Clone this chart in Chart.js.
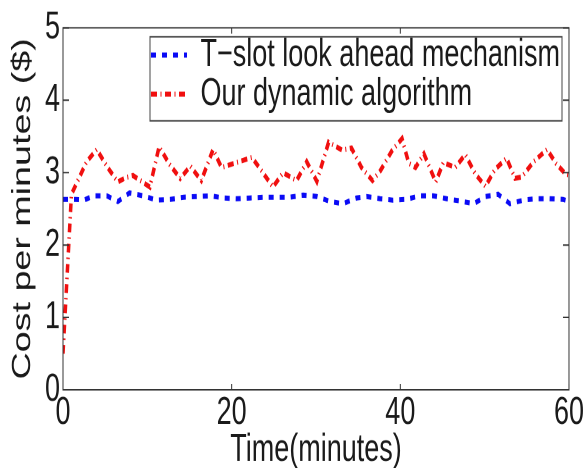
<!DOCTYPE html>
<html><head><meta charset="utf-8">
<script src="https://cdn.jsdelivr.net/npm/chart.js@4/dist/chart.umd.min.js"></script>
<style>
html,body{margin:0;padding:0;background:#fff;overflow:hidden}
#wrap{position:absolute;left:0;top:0;width:584px;height:323px;transform:scaleY(1.449);transform-origin:0 0}
</style></head><body>
<div id="wrap"><canvas id="c"></canvas></div>
<script>
const xTicks = [0, 20, 40, 60];
const yTicks = [0, 1, 2, 3, 4, 5];
const seriesNames = ['T\u2212slot look ahead mechanism', 'Our dynamic algorithm'];

const blueTime = [0, 1.5, 2.5, 3.6, 5.2, 6.5, 7.9, 9.5, 11.1, 12.7, 14.3, 15.9, 17.5, 19.0, 20.6, 22.2, 23.8, 25.3, 26.9, 28.5, 30.1, 31.7, 33.2, 34.8, 36.0, 37.6, 39.1, 40.7, 42.3, 43.9, 45.5, 47.0, 48.7, 50.1, 51.6, 53.0, 54.6, 56.2, 57.7, 59.3, 60];
const blueCost = [2.63, 2.63, 2.62, 2.68, 2.68, 2.60, 2.72, 2.68, 2.62, 2.63, 2.66, 2.67, 2.68, 2.65, 2.64, 2.65, 2.66, 2.66, 2.66, 2.69, 2.67, 2.60, 2.57, 2.65, 2.67, 2.64, 2.62, 2.63, 2.68, 2.68, 2.64, 2.61, 2.57, 2.67, 2.70, 2.57, 2.62, 2.64, 2.64, 2.63, 2.60];

const redTime = [0, 1.0, 1.8, 2.8, 4.0, 5.3, 6.5, 7.4, 8.3, 9.3, 10.3, 11.4, 12.6, 13.9, 15.1, 16.4, 17.8, 18.8, 20.6, 22.4, 23.4, 24.9, 26.1, 27.7, 28.9, 30.1, 31.5, 33.1, 34.2, 35.4, 36.7, 37.6, 39.0, 40.2, 41.0, 41.8, 42.8, 44.2, 45.1, 46.5, 47.7, 48.9, 50.1, 51.2, 52.6, 53.6, 54.4, 55.8, 57.4, 58.5, 59.6, 60];
const redCost = [0.5, 2.7, 2.9, 3.15, 3.32, 3.07, 2.87, 2.93, 2.96, 2.88, 2.80, 3.36, 3.12, 2.92, 3.09, 2.89, 3.32, 3.07, 3.14, 3.21, 3.05, 2.80, 3.0, 2.89, 3.15, 2.88, 3.42, 3.31, 3.34, 3.07, 2.89, 3.02, 3.30, 3.47, 3.13, 3.07, 3.26, 2.87, 3.14, 3.07, 3.25, 2.98, 2.81, 3.04, 3.20, 2.92, 2.94, 3.15, 3.32, 3.12, 2.98, 2.97];

const textColor = '#1a1a1a';
Chart.defaults.font.family = "'Liberation Sans', Arial, Helvetica, sans-serif";
Chart.defaults.color = textColor;

const frame = {
  id: 'frame',
  afterLayout(chart) {
    const lg = chart.legend, a = chart.chartArea;
    const w = lg.width, h = lg.height;
    lg.left = a.left + 88;
    lg.top = a.top + 5.3;
    lg.right = lg.left + w;
    lg.bottom = lg.top + h;
  },
  afterDraw(chart) {
    const ctx = chart.ctx, a = chart.chartArea;
    const xs = chart.scales.x, ys = chart.scales.y;
    ctx.save();
    ctx.strokeStyle = '#333';
    ctx.lineWidth = 1;
    ctx.setLineDash([]);
    ctx.strokeRect(a.left, a.top, a.right - a.left, a.bottom - a.top);
    ctx.beginPath();
    xs.ticks.forEach(t => {
      const px = xs.getPixelForValue(t.value);
      ctx.moveTo(px, a.bottom); ctx.lineTo(px, a.bottom - 4);
      ctx.moveTo(px, a.top); ctx.lineTo(px, a.top + 4);
    });
    ys.ticks.forEach(t => {
      const py = ys.getPixelForValue(t.value);
      ctx.moveTo(a.left, py); ctx.lineTo(a.left + 6, py);
      ctx.moveTo(a.right, py); ctx.lineTo(a.right - 6, py);
    });
    ctx.stroke();
    const lg = chart.legend;
    ctx.strokeStyle = '#444';
    ctx.strokeRect(lg.left - 1, lg.top + 0.9, 412, 58);
    ctx.restore();
  }
};

new Chart(document.getElementById('c'), {
  type: 'line',
  data: {
    datasets: [
      {
        label: seriesNames[0],
        data: blueTime.map((t, i) => ({x: t, y: blueCost[i]})),
        borderColor: 'rgb(10,10,245)',
        backgroundColor: 'rgb(10,10,245)',
        borderWidth: 3.5,
        borderDash: [5, 6],
        pointRadius: 0,
        tension: 0,
        fill: false
      },
      {
        label: seriesNames[1],
        data: redTime.map((t, i) => ({x: t, y: redCost[i]})),
        borderColor: 'rgb(240,15,15)',
        backgroundColor: 'rgb(240,15,15)',
        borderWidth: 3.5,
        borderDash: [6, 3.5, 1, 3.5],
        pointRadius: 0,
        tension: 0,
        fill: false
      }
    ]
  },
  options: {
    animation: false,
    responsive: true,
    maintainAspectRatio: false,
    devicePixelRatio: 2,
    layout: {padding: {top: 17, right: 15, bottom: 0, left: 0}},
    plugins: {
      tooltip: {enabled: false},
      legend: {
        position: 'chartArea',
        align: 'start',
        labels: {
          usePointStyle: true,
          pointStyle: 'line',
          pointStyleWidth: 36,
          padding: 0,
          color: textColor,
          font: {size: 27},
          generateLabels: chart => {
            const items = Chart.defaults.plugins.legend.labels.generateLabels(chart);
            items.forEach(it => {
              const ds = chart.data.datasets[it.datasetIndex];
              it.lineDash = ds.borderDash;
              it.lineWidth = ds.borderWidth;
              it.strokeStyle = ds.borderColor;
              it.fillStyle = ds.borderColor;
              it.pointStyle = 'line';
            });
            return items;
          }
        }
      }
    },
    scales: {
      x: {
        type: 'linear',
        min: 0, max: 60,
        grid: {display: false, drawOnChartArea: false, drawTicks: false},
        border: {display: false},
        ticks: {font: {size: 27, lineHeight: 1.2}, padding: 0, maxRotation: 0, autoSkip: false, color: textColor},
        title: {display: true, text: 'Time(minutes)', font: {size: 27, lineHeight: 1}, padding: {top: 0, bottom: -1}, color: textColor},
        afterBuildTicks: s => { s.ticks = xTicks.map(v => ({value: v})); },
        afterFit: s => { s.height = 54; }
      },
      y: {
        type: 'linear',
        min: 0, max: 5,
        grid: {display: false, drawOnChartArea: false, drawTicks: false},
        border: {display: false},
        ticks: {font: {size: 27, lineHeight: 1.2}, padding: 3, color: textColor},
        title: {display: true, text: 'Cost per minutes ($)', font: {size: 26, lineHeight: 1}, padding: {top: 10, bottom: 0}, color: textColor},
        afterBuildTicks: s => { s.ticks = yTicks.map(v => ({value: v})); },
        afterFit: s => { s.width = 63; }
      }
    }
  },
  plugins: [frame]
});
</script>
</body></html>
